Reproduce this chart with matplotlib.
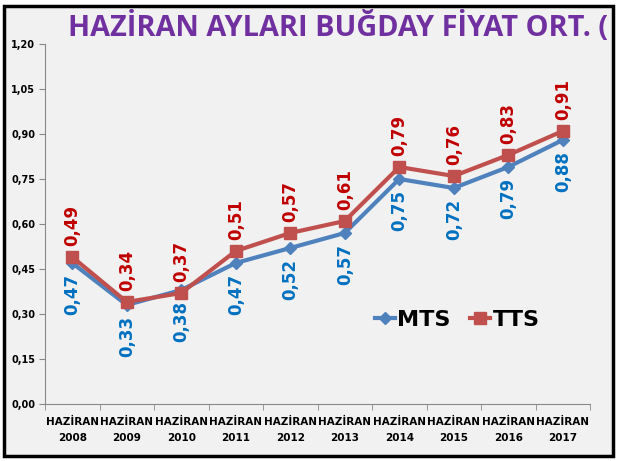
import matplotlib.pyplot as plt
import numpy as np
from matplotlib.patches import Rectangle
from matplotlib.transforms import Bbox

years = ["2008", "2009", "2010", "2011", "2012", "2013", "2014", "2015", "2016", "2017"]
mts = [0.47, 0.33, 0.38, 0.47, 0.52, 0.57, 0.75, 0.72, 0.79, 0.88]
tts = [0.49, 0.34, 0.37, 0.51, 0.57, 0.61, 0.79, 0.76, 0.83, 0.91]
yticks = [0.00, 0.15, 0.30, 0.45, 0.60, 0.75, 0.90, 1.05, 1.20]

W, H = 629, 461
fig = plt.figure(figsize=(W / 100, H / 100), dpi=100)
fig.patch.set_facecolor("white")

# chart area background + border
bx0, by0, bx1, by1 = 4, 6, 613, 456
bg = Rectangle((bx0 / W, 1 - by1 / H), (bx1 - bx0) / W, (by1 - by0) / H,
               transform=fig.transFigure, facecolor="#f1f1f1",
               edgecolor="black", linewidth=2.5, zorder=-5)
fig.patches.append(bg)

ax = fig.add_axes([45 / W, 1 - 404 / H, (590 - 45) / W, (404 - 44) / H])
ax.set_zorder(2)
ax.set_facecolor("none")

x = np.arange(len(years))
ax.plot(x, mts, color="#4F81BD", lw=3, marker="D", ms=6, zorder=3, label="MTS")
ax.plot(x, tts, color="#C0504D", lw=3, marker="s", ms=8, zorder=4, label="TTS")

for i in range(len(years)):
    ax.annotate(f"{tts[i]:.2f}".replace(".", ","), (x[i], tts[i]),
                xytext=(0, 8), textcoords="offset points", rotation=90,
                ha="center", va="bottom", color="#C00000",
                fontsize=12, fontweight="bold")
    ax.annotate(f"{mts[i]:.2f}".replace(".", ","), (x[i], mts[i]),
                xytext=(0, -8), textcoords="offset points", rotation=90,
                ha="center", va="top", color="#0070C0",
                fontsize=12, fontweight="bold")

ax.set_xlim(-0.5, len(years) - 0.5)
ax.set_ylim(0, 1.2)
ax.set_yticks(yticks)
ax.set_yticklabels([f"{v:.2f}".replace(".", ",") for v in yticks],
                   fontsize=7, fontweight="bold")
ax.set_xticks(x)
ax.set_xticklabels([f"HAZİRAN\n{y}" for y in years], fontsize=7.5,
                   fontweight="bold", linespacing=1.8)
ax.set_xticks(np.arange(-0.5, len(years)), minor=True)
ax.tick_params(axis="x", which="major", length=0, pad=9)
ax.tick_params(axis="x", which="minor", length=4, color="#888888")
ax.tick_params(axis="y", length=4, color="#888888", pad=3)
for s in ["top", "right"]:
    ax.spines[s].set_visible(False)
for s in ["left", "bottom"]:
    ax.spines[s].set_color("#888888")
    ax.spines[s].set_linewidth(0.8)

leg = ax.legend(loc="center left", bbox_to_anchor=(0.605, 0.233), ncol=2,
                frameon=False, handlelength=0.9, handletextpad=0.1,
                columnspacing=0.9, borderpad=0, borderaxespad=0,
                prop={"size": 16, "weight": "bold"})

title = fig.text(68 / W, 1 - 28 / H, "HAZİRAN AYLARI BUĞDAY FİYAT ORT. (TL)",
                 ha="left", va="center", color="#7030A0", fontsize=20.8,
                 fontweight="bold", family="Open Sans")
title.set_clip_box(Bbox([[0, 0], [bx1 - 6, H]]))
title.set_clip_on(True)

fig.savefig("out.png", dpi=100)
